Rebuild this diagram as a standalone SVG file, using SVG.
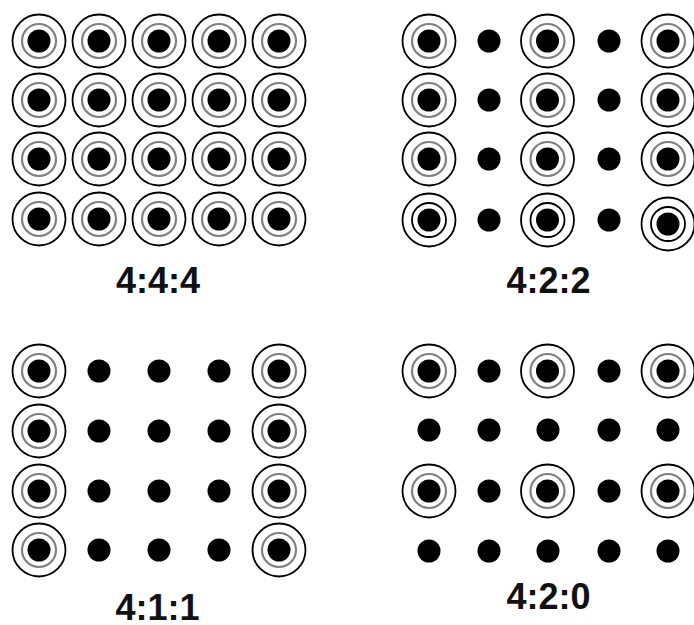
<svg xmlns="http://www.w3.org/2000/svg" xmlns:xlink="http://www.w3.org/1999/xlink" width="694" height="625" viewBox="0 0 694 625">
<style>
.outer{fill:none;stroke:#000;stroke-width:1.8}
.ring{fill:none;stroke:#808080;stroke-width:2.2}
.ringk{fill:none;stroke:#000;stroke-width:1.8}
.dot{fill:#000}
.lbl{font-family:"Liberation Sans",Arial,sans-serif;font-weight:bold;font-size:36px;fill:#111;text-anchor:middle}
</style>
<defs>
<g id="s">
<circle class="outer" r="26.5"/>
<circle class="ring" r="17"/>
<circle class="dot" r="11.5"/>
</g>
<g id="sk">
<circle class="outer" r="26.5"/>
<circle class="ringk" r="17"/>
<circle class="dot" r="11.5"/>
</g>
<circle id="d" class="dot" r="11.5"/>
</defs>
<rect width="694" height="625" fill="#fff"/>

<g id="p444">
<use href="#s" x="39" y="41"/><use href="#s" x="99" y="41"/><use href="#s" x="159" y="41"/><use href="#s" x="219" y="41"/><use href="#s" x="279" y="41"/>
<use href="#s" x="39" y="100"/><use href="#s" x="99" y="100"/><use href="#s" x="159" y="100"/><use href="#s" x="219" y="100"/><use href="#s" x="279" y="100"/>
<use href="#s" x="39" y="159"/><use href="#s" x="99" y="159"/><use href="#s" x="159" y="159"/><use href="#s" x="219" y="159"/><use href="#s" x="279" y="159"/>
<use href="#s" x="39" y="219"/><use href="#s" x="99" y="219"/><use href="#s" x="159" y="219"/><use href="#s" x="219" y="219"/><use href="#s" x="279" y="219"/>
<text class="lbl" x="158" y="293">4:4:4</text>
</g>

<g id="p422">
<use href="#s" x="429" y="41"/><use href="#d" x="489" y="41"/><use href="#s" x="547.5" y="41"/><use href="#d" x="609" y="41"/><use href="#s" x="668" y="41"/>
<use href="#s" x="429" y="100"/><use href="#d" x="489" y="100"/><use href="#s" x="547.5" y="100"/><use href="#d" x="609" y="100"/><use href="#s" x="668" y="100"/>
<use href="#s" x="429" y="159"/><use href="#d" x="489" y="159"/><use href="#s" x="547.5" y="159"/><use href="#d" x="609" y="159"/><use href="#s" x="668" y="159"/>
<use href="#sk" x="429" y="220"/><use href="#d" x="489" y="220"/><use href="#sk" x="547.5" y="220"/><use href="#d" x="609" y="220"/><use href="#sk" x="668" y="224"/>
<text class="lbl" x="548.5" y="293">4:2:2</text>
</g>

<g id="p411">
<use href="#s" x="39" y="371"/><use href="#d" x="99" y="371"/><use href="#d" x="159" y="371"/><use href="#d" x="219" y="371"/><use href="#s" x="279" y="371"/>
<use href="#s" x="39" y="431"/><use href="#d" x="99" y="431"/><use href="#d" x="159" y="431"/><use href="#d" x="219" y="431"/><use href="#s" x="279" y="431"/>
<use href="#s" x="39" y="491"/><use href="#d" x="99" y="491"/><use href="#d" x="159" y="491"/><use href="#d" x="219" y="491"/><use href="#s" x="279" y="491"/>
<use href="#s" x="39" y="550"/><use href="#d" x="99" y="550"/><use href="#d" x="159" y="550"/><use href="#d" x="219" y="550"/><use href="#s" x="279" y="550"/>
<text class="lbl" x="157.5" y="620">4:1:1</text>
</g>

<g id="p420">
<use href="#s" x="429" y="371"/><use href="#d" x="489" y="371"/><use href="#s" x="547.5" y="371"/><use href="#d" x="609" y="371"/><use href="#s" x="668" y="371"/>
<use href="#d" x="429" y="430"/><use href="#d" x="489" y="430"/><use href="#d" x="548" y="430"/><use href="#d" x="609" y="430"/><use href="#d" x="668" y="430"/>
<use href="#s" x="429" y="491"/><use href="#d" x="489" y="491"/><use href="#s" x="547.5" y="491"/><use href="#d" x="609" y="491"/><use href="#s" x="668" y="491"/>
<use href="#d" x="429" y="551"/><use href="#d" x="489" y="551"/><use href="#d" x="548" y="551"/><use href="#d" x="609" y="551"/><use href="#d" x="668" y="551"/>
<text class="lbl" x="548.5" y="609">4:2:0</text>
</g>

<g id="connectors"/>
</svg>
